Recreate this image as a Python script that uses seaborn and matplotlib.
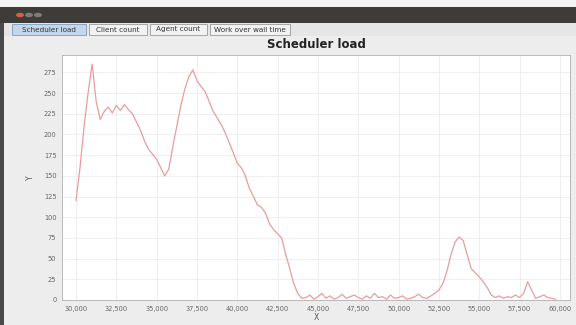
import matplotlib
matplotlib.use("Agg")
import matplotlib.pyplot as plt
import seaborn as sns
import pandas as pd
from matplotlib.patches import Rectangle, Circle

x_values = list(range(30000, 60000, 250))
load_values = [
    120, 160, 210, 250, 285, 240, 218, 228, 233, 226, 235, 229, 236, 230, 225, 215,
    205, 192, 182, 176, 170, 160, 150, 158, 185, 210, 235, 255, 270, 278, 265, 258,
    252, 240, 228, 220, 212, 202, 190, 178, 165, 160, 150, 135, 125, 115, 112, 105,
    92, 85, 80, 75, 55, 38, 20, 8, 2,
    3, 6, 1, 4, 8, 2, 5, 1, 3, 7, 2, 4, 6, 3, 1, 5, 2, 8, 3, 4, 1, 6, 2, 3, 5, 1, 2, 4, 7, 3, 2,
    5, 8, 12, 20, 35, 55, 70, 76, 72, 55, 38, 33, 28, 22, 15, 6, 3, 5, 2, 4, 3, 6, 3, 8,
    22, 12, 2, 4, 6, 3, 2, 1,
]
x_ticks = list(range(30000, 60001, 2500))
y_ticks = list(range(0, 276, 25))
tab_labels = ["Scheduler load", "Client count", "Agent count", "Work over wall time"]

n = min(len(x_values), len(load_values))
df = pd.DataFrame({"X": x_values[:n], "Y": load_values[:n]})

sns.set_theme(style="white")
plt.rcParams["font.family"] = ["DejaVu Sans"]

W, H = 576, 325
fig = plt.figure(figsize=(W / 100, H / 100), dpi=100, facecolor="#ededed")

# window chrome
fig.patches.append(Rectangle((0, 1 - 7 / H), 1, 7 / H, transform=fig.transFigure,
                             facecolor="#f4f4f4", edgecolor="none", zorder=0))
fig.patches.append(Rectangle((0, 1 - 23 / H), 1, 16 / H, transform=fig.transFigure,
                             facecolor="#3d3c38", edgecolor="none", zorder=0))
fig.patches.append(Rectangle((0, 0), 4 / W, 1 - 23 / H, transform=fig.transFigure,
                             facecolor="#4a4a4a", edgecolor="none", zorder=0))
for cx, col in [(20, "#d9603f"), (29, "#7d7c78"), (38, "#7d7c78")]:
    fig.patches.append(Circle((cx / W, 1 - 15 / H), 4 / W, transform=fig.transFigure,
                              facecolor=col, edgecolor="none", zorder=1))
# tab strip
fig.patches.append(Rectangle((4 / W, 1 - 36 / H), 1, 13 / H, transform=fig.transFigure,
                             facecolor="#e6e6e6", edgecolor="none", zorder=0))
tab_pos = [(12, 86), (89, 147), (150, 207), (210, 290)]
for i, ((x0, x1), lab) in enumerate(zip(tab_pos, tab_labels)):
    fc = "#c4d6ea" if i == 0 else "#f2f2f2"
    ec = "#7f9cc0" if i == 0 else "#9a9a9a"
    fig.patches.append(Rectangle((x0 / W, 1 - 35 / H), (x1 - x0) / W, 11 / H,
                                 transform=fig.transFigure, facecolor=fc,
                                 edgecolor=ec, linewidth=0.6, zorder=1))
    fig.text((x0 + x1) / 2 / W, 1 - 29.5 / H, lab, ha="center", va="center",
             fontsize=5.2, color="#333333")

ax = fig.add_axes([62 / W, 1 - 300 / H, 508 / W, 245 / H])
ax.set_facecolor("white")
sns.lineplot(data=df, x="X", y="Y", ax=ax, color="#e89d9d", linewidth=0.9)

ax.set_xlim(29132, 60628)
ax.set_ylim(0, 296)
ax.set_xticks(x_ticks)
ax.set_xticklabels([f"{t:,}" for t in x_ticks])
ax.set_yticks(y_ticks)
ax.grid(True, color="#ececec", linewidth=0.6)
ax.tick_params(axis="both", labelsize=4.8, colors="#666666", length=2, width=0.5, pad=2)
for s in ax.spines.values():
    s.set_color("#b0b0b0")
    s.set_linewidth(0.6)
ax.set_xlabel("X", fontsize=5.5, color="#555555", labelpad=1)
ax.set_ylabel("Y", fontsize=5.5, color="#555555", rotation=90, labelpad=6)

fig.text(316 / W, 1 - 45 / H, "Scheduler load", ha="center", va="center",
         fontsize=8.5, fontweight="bold", color="#222222")

fig.savefig("out.png", dpi=100, facecolor=fig.get_facecolor())
